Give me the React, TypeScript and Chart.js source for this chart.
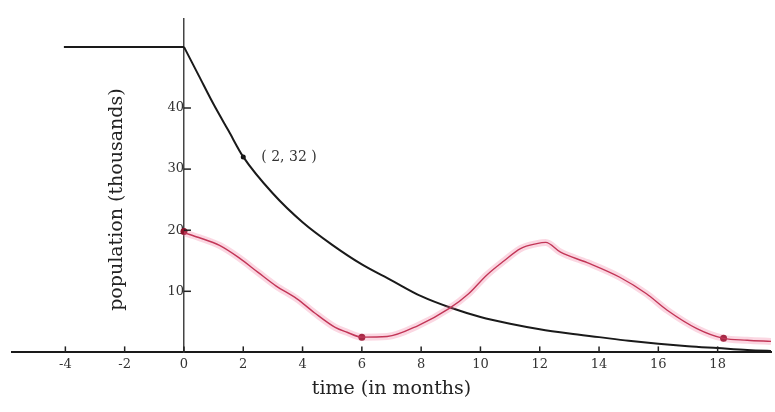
import React, { useEffect, useRef } from 'react';
import { Chart, registerables } from 'chart.js';

Chart.register(...registerables);

// ---- data ----
const xTicks = [-4, -2, 0, 2, 4, 6, 8, 10, 12, 14, 16, 18];
const yTicks = [10, 20, 30, 40];

// before t = 0: constant population
const flatX = [-4.05, 0];
const flatY = [50, 50];

// after t = 0: decay curve
const decayX = [0, 0.5, 1, 1.5, 2, 3, 4, 5, 6, 7, 8, 9, 10, 11, 12, 13, 14, 15, 16, 17, 18, 19, 20];
const decayY = [50, 45.3, 40.6, 36.3, 32, 26, 21.3, 17.6, 14.4, 11.8, 9.2, 7.3, 5.8, 4.7, 3.8, 3.1, 2.5, 1.9, 1.4, 1.0, 0.7, 0.4, 0.2];

// hand-drawn red curve
const redX = [0, 0.5, 1.2, 1.85, 2.5, 3.1, 3.8, 4.4, 5.1, 5.5, 6, 6.85, 7.9, 8.95, 9.6, 10.2, 10.8, 11.35, 11.9, 12.2, 12.7, 13.6, 14.7, 15.6, 16.3, 17.3, 18.2, 19.0, 19.8];
const redY = [19.6, 18.8, 17.5, 15.5, 13.1, 10.9, 8.8, 6.5, 4.1, 3.3, 2.5, 2.6, 4.4, 7.2, 9.6, 12.6, 15.0, 17.0, 17.8, 18.0, 16.4, 14.7, 12.3, 9.6, 6.9, 3.9, 2.3, 2.0, 1.8];

const markX = [0, 6, 18.2];
const markY = [19.8, 2.5, 2.3];

const pointX = [2];
const pointY = [32];
const pointLabel = '( 2, 32 )';

const xTitle = 'time (in months)';
const yTitle = 'population (thousands)';

const toXY = (xs: number[], ys: number[]) => xs.map((x, i) => ({ x, y: ys[i] }));

const SERIF = '"DejaVu Serif", "Liberation Serif", serif';

const overlay = {
  id: 'overlay',
  afterDatasetsDraw(chart: any) {
    const { ctx, chartArea, scales } = chart;
    const x = scales.x;
    const y = scales.y;
    const x0 = x.getPixelForValue(0);
    ctx.save();
    ctx.strokeStyle = '#222';
    ctx.lineWidth = 1.5;
    xTicks.forEach((v) => {
      const px = x.getPixelForValue(v);
      ctx.beginPath();
      ctx.moveTo(px, chartArea.bottom);
      ctx.lineTo(px, chartArea.bottom - 6);
      ctx.stroke();
    });
    yTicks.forEach((v) => {
      const py = y.getPixelForValue(v);
      ctx.beginPath();
      ctx.moveTo(x0, py);
      ctx.lineTo(x0 + 7, py);
      ctx.stroke();
    });
    // annotation
    ctx.fillStyle = '#333';
    ctx.font = '14px ' + SERIF;
    ctx.textAlign = 'left';
    ctx.textBaseline = 'middle';
    ctx.fillText(pointLabel, x.getPixelForValue(pointX[0]) + 18, y.getPixelForValue(pointY[0]));
    // titles
    ctx.fillStyle = '#222';
    ctx.font = '19px ' + SERIF;
    ctx.textAlign = 'center';
    ctx.fillText(xTitle, x.getPixelForValue(7), chartArea.bottom + 37);
    ctx.translate(x.getPixelForValue(-2.25), y.getPixelForValue(25));
    ctx.rotate(-Math.PI / 2);
    ctx.fillText(yTitle, 0, 0);
    ctx.restore();
  },
};

export default function App() {
  const ref = useRef<HTMLCanvasElement>(null);
  useEffect(() => {
    if (!ref.current) return;
    const chart = new Chart(ref.current, {
      type: 'line',
      data: {
        datasets: [
          {
            data: toXY(redX, redY),
            borderColor: 'rgba(240, 110, 150, 0.28)',
            borderWidth: 7,
            pointRadius: 0,
            cubicInterpolationMode: 'monotone',
            fill: false,
          },
          {
            data: toXY(redX, redY),
            borderColor: '#b0203f',
            borderWidth: 1.4,
            pointRadius: 0,
            cubicInterpolationMode: 'monotone',
            fill: false,
          },
          {
            data: toXY(flatX, flatY),
            borderColor: '#1a1a1a',
            borderWidth: 2,
            pointRadius: 0,
            tension: 0,
            fill: false,
          },
          {
            data: toXY(decayX, decayY),
            borderColor: '#1a1a1a',
            borderWidth: 2,
            pointRadius: 0,
            cubicInterpolationMode: 'monotone',
            fill: false,
          },
          {
            data: toXY(markX, markY),
            showLine: false,
            pointRadius: 3.5,
            pointBackgroundColor: '#8a1028',
            pointBorderWidth: 0,
          },
          {
            data: toXY(pointX, pointY),
            showLine: false,
            pointRadius: 2.5,
            pointBackgroundColor: '#111',
            pointBorderWidth: 0,
          },
        ],
      },
      options: {
        responsive: false,
        animation: false,
        events: [],
        layout: { padding: { left: 12, right: 0, top: 0, bottom: 36 } },
        plugins: { legend: { display: false }, tooltip: { enabled: false } },
        scales: {
          x: {
            type: 'linear',
            position: 'bottom',
            min: -5.8,
            max: 19.8,
            afterBuildTicks: (scale: any) => {
              scale.ticks = xTicks.map((v) => ({ value: v }));
            },
            grid: { display: false, drawTicks: false },
            border: { display: true, color: '#1a1a1a', width: 2 },
            ticks: {
              padding: 4,
              color: '#333',
              font: { family: SERIF, size: 13 },
              callback: (v: any) => String(v),
            },
          },
          y: {
            type: 'linear',
            position: { x: 0 } as any,
            min: 0,
            max: 54.6,
            afterBuildTicks: (scale: any) => {
              scale.ticks = yTicks.map((v) => ({ value: v }));
            },
            grid: { display: false, drawTicks: false },
            border: { display: true, color: '#444', width: 1.5 },
            ticks: {
              padding: 11,
              color: '#333',
              font: { family: SERIF, size: 13 },
              callback: (v: any) => String(v),
            },
          },
        },
      },
      plugins: [overlay],
    });
    return () => chart.destroy();
  }, []);
  return (
    <div style={{ position: 'absolute', left: 0, top: 0, width: 775, height: 412, background: '#fff' }}>
      <canvas ref={ref} width={775} height={412} style={{ display: 'block' }} />
    </div>
  );
}
